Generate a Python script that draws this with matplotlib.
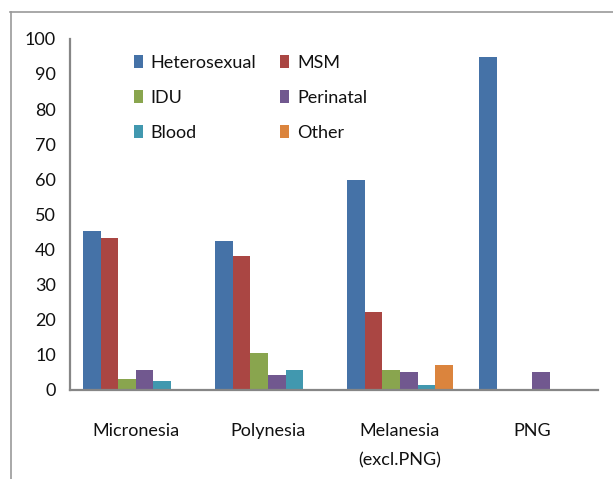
import numpy as np
import matplotlib
matplotlib.use("Agg")
import matplotlib.pyplot as plt
from matplotlib.lines import Line2D

# data
regions = ["Micronesia", "Polynesia", "Melanesia\n(excl.PNG)", "PNG"]
series_names = ["Heterosexual", "MSM", "IDU", "Perinatal", "Blood", "Other"]
heterosexual = [45.3, 42.3, 59.7, 94.9]
msm = [43.2, 38.1, 22.2, 0]
idu = [3.1, 10.6, 5.7, 0]
perinatal = [5.7, 4.3, 5.2, 5.2]
blood = [2.4, 5.7, 1.4, 0]
other = [0, 0, 7.1, 0]
colors = ["#4572A7", "#AA4643", "#89A54E", "#71588F", "#4198AF", "#DB843D"]

plt.rcParams["font.family"] = ["Lato", "DejaVu Sans"]

fig = plt.figure(figsize=(6.13, 4.79), dpi=100)
ax = fig.add_axes([0.114, 0.186, 0.8615, 0.733])

all_series = [heterosexual, msm, idu, perinatal, blood, other]
x = np.arange(len(regions))
w = 0.8 / len(all_series)
bars = []
for i, (name, vals) in enumerate(zip(series_names, all_series)):
    bars.append(ax.bar(x - 0.4 + w * (i + 0.5), vals, width=w, color=colors[i], label=name))

ax.set_xlim(-0.5, len(regions) - 0.5)
ax.set_ylim(0, 100)
ax.set_yticks(range(0, 101, 10))
ax.set_xticks(x)
ax.set_xticklabels(regions, linespacing=2.0, va="top")
ax.tick_params(axis="both", length=0, labelsize=13, labelcolor="#111111")
ax.tick_params(axis="x", pad=24)
ax.tick_params(axis="y", pad=10)

for s in ["top", "right"]:
    ax.spines[s].set_visible(False)
for s in ["left", "bottom"]:
    ax.spines[s].set_color("#868686")
    ax.spines[s].set_linewidth(1.6)

# legend reads row by row in the reference, matplotlib fills by column
order = [0, 2, 4, 1, 3, 5]
ax.legend([bars[i] for i in order], [series_names[i] for i in order],
          ncol=2, loc="upper left", bbox_to_anchor=(0.09, 1.0), frameon=False,
          fontsize=13, handlelength=0.5, handleheight=0.75, handletextpad=0.45,
          columnspacing=1.3, labelspacing=1.05, labelcolor="#111111")

# outer frame lines (top and left only)
fig.add_artist(Line2D([10 / 613, 1], [1 - 12 / 479, 1 - 12 / 479], color="#9a9a9a", lw=1.2))
fig.add_artist(Line2D([11 / 613, 11 / 613], [0, 1 - 12 / 479], color="#9a9a9a", lw=1.2))

fig.savefig("out.png", dpi=100)
